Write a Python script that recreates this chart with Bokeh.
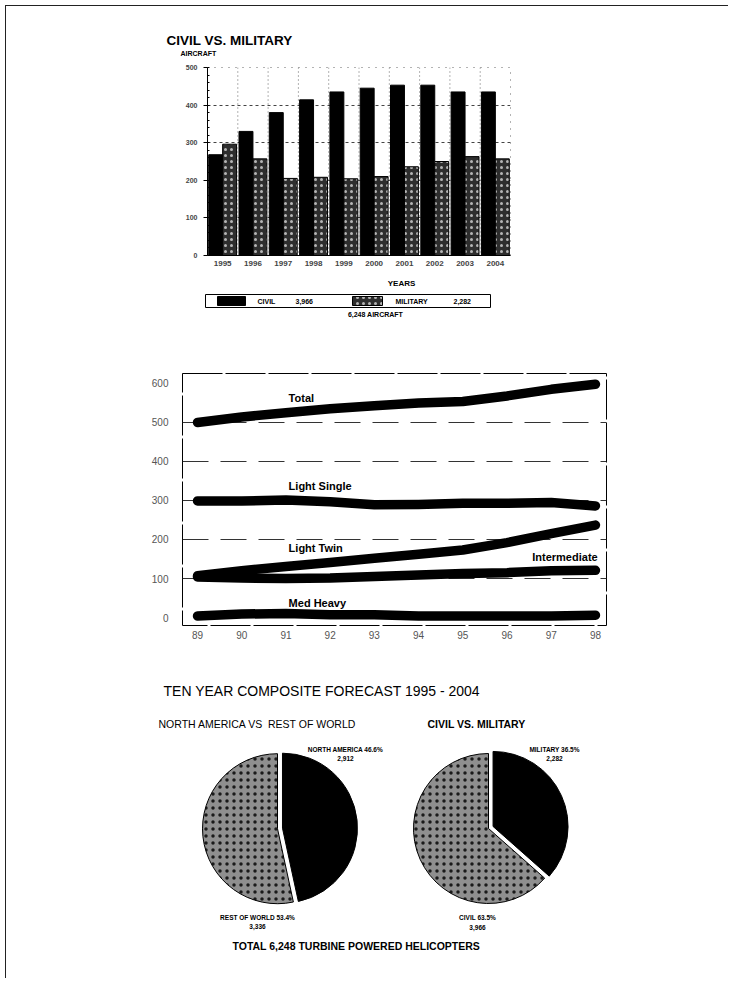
import math
from bokeh.plotting import figure
from bokeh.layouts import column
from bokeh.models import ColumnDataSource, FactorRange, Range1d, FixedTicker, Span
from bokeh.transform import dodge
from bokeh.embed import file_html
from bokeh.resources import INLINE
from bokeh.core.properties import value

FONT = "Liberation Sans"
NB = "\u00a0"

# ---------------- data: civil vs military bar chart ----------------
years = ["1995", "1996", "1997", "1998", "1999", "2000", "2001", "2002", "2003", "2004"]
civil = [268, 330, 380, 414, 435, 445, 453, 453, 435, 435]
military = [296, 257, 205, 208, 204, 210, 236, 250, 263, 257]
bar_yticks = [0, 100, 200, 300, 400, 500]
civil_total = 3966
military_total = 2282

# ---------------- data: line chart by class ----------------
line_years = [89, 90, 91, 92, 93, 94, 95, 96, 97, 98]
total = [500, 514, 525, 535, 543, 550, 554, 568, 585, 598]
light_single = [299, 299, 301, 297, 289, 290, 293, 293, 295, 286]
light_twin = [107, 120, 131, 141, 152, 162, 173, 192, 215, 237]
intermediate = [104, 101, 100, 101, 105, 109, 113, 115, 120, 121]
med_heavy = [4, 9, 10, 7, 7, 4, 4, 4, 4, 6]
line_yticks = [0, 100, 200, 300, 400, 500, 600]

# ---------------- data: pies ----------------
region_labels = ["NORTH AMERICA", "REST OF WORLD"]
region_values = [2912, 3336]
type_labels = ["MILITARY", "CIVIL"]
type_values = [military_total, civil_total]

W = 722
X0 = 6  # page x of the figures' left edge


def blank(height):
    p = figure(width=W, height=height, x_range=Range1d(0, W), y_range=Range1d(0, height),
               output_backend="svg", toolbar_location=None, min_border=0,
               x_axis_location=None, y_axis_location=None, title=None, frame_align=False)
    p.grid.visible = False
    p.outline_line_color = None
    return p


def add_texts(p, xs, ys, texts, sizes, styles, aligns):
    src = ColumnDataSource(dict(x=xs, y=ys, text=texts, size=sizes, style=styles, align=aligns))
    p.text(x="x", y="y", text="text", text_font_size="size", text_font_style="style",
           text_align="align", text_baseline="middle", text_font=value(FONT), text_color="black",
           source=src)


# =============== header (page y 6..56) ===============
HH = 50
pH = blank(HH)
add_texts(pH, [166 - X0, 180 - X0], [56 - 40, 56 - 53], ["CIVIL VS. MILITARY", "AIRCRAFT"],
          ["13.5px", "7px"], ["bold", "bold"], ["left", "left"])

# =============== Figure A: bars (page y 56..276) ===============
pA = figure(width=W, height=220, x_range=FactorRange(factors=years, range_padding=0),
            y_range=Range1d(0, 500), output_backend="svg", toolbar_location=None,
            min_border_left=201, min_border_right=218, min_border_top=11, min_border_bottom=21,
            title=None, frame_align=False)
srcA = ColumnDataSource(dict(years=years, civil=civil, military=military))
pA.vbar(x=dodge("years", -0.23, range=pA.x_range), top="civil", width=0.46, source=srcA,
        fill_color="black", line_color="black")
pA.vbar(x=dodge("years", 0.23, range=pA.x_range), top="military", width=0.46, source=srcA,
        fill_color="#2e2e2e", line_color="black", hatch_pattern="dot",
        hatch_color="#b5b5b5", hatch_scale=6, hatch_weight=1.2)
for i in range(1, len(years)):
    pA.add_layout(Span(location=i, dimension="height", line_color="#666666",
                       line_dash="1 3", line_width=1))

pA.yaxis.ticker = FixedTicker(ticks=bar_yticks, minor_ticks=list(range(0, 501, 20)))
pA.yaxis.major_label_text_font = FONT
pA.yaxis.major_label_text_font_size = "7px"
pA.yaxis.major_label_text_font_style = "bold"
pA.yaxis.major_tick_out = 4
pA.yaxis.major_tick_in = 0
pA.yaxis.minor_tick_in = 2
pA.yaxis.minor_tick_out = 0
pA.yaxis.major_label_standoff = 6
pA.xaxis.major_label_text_font = FONT
pA.xaxis.major_label_text_font_size = "8px"
pA.xaxis.major_label_text_font_style = "bold"
pA.xaxis.major_tick_line_color = None
pA.xaxis.major_tick_out = 0
pA.xaxis.major_tick_in = 0
pA.xaxis.major_label_standoff = 5
pA.xgrid.grid_line_color = None
pA.ygrid.grid_line_color = "#444444"
pA.ygrid.grid_line_dash = "3 3"
pA.outline_line_color = "#666666"
pA.outline_line_dash = "1 6"

# =============== legend strip (page y 276..350) ===============
HL = 74
pL = blank(HL)
YL = 350  # page y of the strip's bottom
pL.quad(left=[205 - X0], right=[490 - X0], top=[YL - 294], bottom=[YL - 307],
        fill_color="white", line_color="black", line_width=1)
pL.quad(left=[217 - X0], right=[245 - X0], top=[YL - 296], bottom=[YL - 305],
        fill_color="black", line_color="black")
pL.quad(left=[352 - X0], right=[382 - X0], top=[YL - 296], bottom=[YL - 305],
        fill_color="#2e2e2e", line_color="black", hatch_pattern="dot",
        hatch_color="#b5b5b5", hatch_scale=6, hatch_weight=1.2)
add_texts(pL, [401 - X0, 257 - X0, 295 - X0, 395 - X0, 453 - X0, 375 - X0],
          [YL - 283] + [YL - 300.5] * 4 + [YL - 314],
          ["YEARS", "CIVIL", f"{civil_total:,}", "MILITARY", f"{military_total:,}",
           f"{civil_total + military_total:,} AIRCRAFT"],
          ["8px"] + ["7px"] * 5, ["bold"] * 6,
          ["center", "left", "left", "left", "left", "center"])

# =============== Figure B: lines (page y 350..650) ===============
pB = figure(width=W, height=300, x_range=Range1d(88.66, 98.25), y_range=Range1d(-20.5, 625.6),
            output_backend="svg", toolbar_location=None,
            min_border_left=176, min_border_right=122, min_border_top=23, min_border_bottom=25,
            title=None, frame_align=False)
for series in [total, light_single, light_twin, intermediate, med_heavy]:
    pB.line(line_years, series, line_width=9.5, line_color="black", line_cap="round",
            line_join="round")

pB.xaxis.ticker = FixedTicker(ticks=line_years)
pB.yaxis.ticker = FixedTicker(ticks=line_yticks)
for ax in (pB.xaxis[0], pB.yaxis[0]):
    ax.axis_line_color = None
    ax.major_tick_line_color = None
    ax.minor_tick_line_color = None
    ax.major_tick_out = 0
    ax.major_label_text_font = FONT
    ax.major_label_text_font_size = "10px"
    ax.major_label_text_color = "#555555"
pB.yaxis.major_label_standoff = 14
pB.xaxis.major_label_standoff = 5
pB.xgrid.grid_line_color = None
pB.ygrid.ticker = FixedTicker(ticks=[100, 200, 300, 400, 500])
pB.ygrid.grid_line_color = "#333333"
pB.ygrid.grid_line_dash = "26 12"
pB.outline_line_color = "black"
pB.outline_line_dash = "40 3"

line_names = ["Total", "Light Single", "Light Twin", "Intermediate", "Med Heavy"]
name_x = [91.06, 91.06, 91.06, 98.05, 91.06]
name_y = [564, 338, 179, 154, 38]
name_align = ["left", "left", "left", "right", "left"]
pB.text(x=name_x, y=name_y, text=line_names, text_align=name_align, text_baseline="middle",
        text_font=value(FONT), text_font_size="11px", text_font_style="bold", text_color="black")

# =============== Figure C: pies (page y 650..978) ===============
HC = 328
YC = 978
pC = blank(HC)


def pie(cx, cy, r, values, fills, hatches, offsets):
    tot = float(sum(values))
    start = math.pi / 2
    for v, fc, hp, off in zip(values, fills, hatches, offsets):
        sweep = 2 * math.pi * v / tot
        a0 = start - sweep
        mid = (a0 + start) / 2
        ox, oy = cx + off * math.cos(mid), cy + off * math.sin(mid)
        kw = dict(fill_color=fc, line_color="black", line_width=1)
        if hp:
            kw.update(hatch_pattern="dot", hatch_color="#1a1a1a", hatch_scale=7, hatch_weight=1.6)
        pC.wedge(x=[ox], y=[oy], radius=r, start_angle=[a0], end_angle=[start], **kw)
        start = a0


pie(279 - X0, YC - 828, 75, region_values, ["black", "#8f8f8f"], [False, True], [3, 2])
pie(488 - X0, YC - 828, 75, type_values, ["black", "#8f8f8f"], [False, True], [5, 0])

tot_all = sum(region_values)
pct = lambda v: f"{100.0 * v / tot_all:.1f}%"

add_texts(pC,
          [157, 152, 421, 339, 339, 548, 548, 251, 251, 471, 471, 226],
          [288, 255, 255, 229, 220, 229, 220, 61, 52, 61, 51, 33],
          ["TEN YEAR COMPOSITE FORECAST 1995 - 2004",
           "NORTH AMERICA VS" + NB + NB + "REST OF WORLD",
           "CIVIL VS. MILITARY",
           f"{region_labels[0]} {pct(region_values[0])}", f"{region_values[0]:,}",
           f"{type_labels[0]} {pct(type_values[0])}", f"{type_values[0]:,}",
           f"{region_labels[1]} {pct(region_values[1])}", f"{region_values[1]:,}",
           f"{type_labels[1]} {pct(type_values[1])}", f"{type_values[1]:,}",
           f"TOTAL {tot_all:,} TURBINE POWERED HELICOPTERS"],
          ["14px", "10.5px", "10.5px"] + ["6.5px"] * 8 + ["10.5px"],
          ["normal", "normal", "bold"] + ["bold"] * 9,
          ["left", "left", "left"] + ["center"] * 8 + ["left"])

layout = column(pH, pA, pL, pB, pC,
                styles={"border-top": "1px solid #222", "border-left": "1px solid #222",
                        "margin-left": "5px", "margin-top": "5px"})
open("out.html", "w").write(file_html(layout, INLINE))
